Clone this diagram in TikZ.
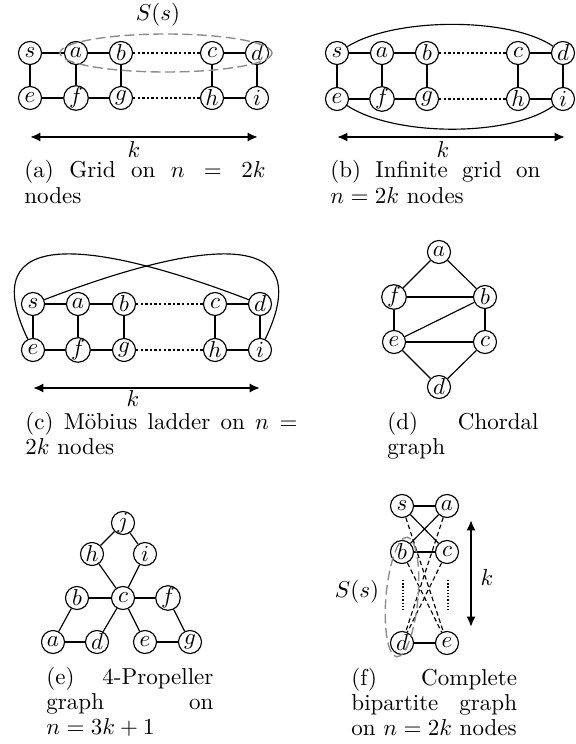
\documentclass[tikz,border=0pt]{standalone}
\usetikzlibrary{arrows.meta}
\begin{document}
\begin{tikzpicture}[x=0.4348pt,y=-0.4348pt,
  vtx/.style={draw,circle,minimum size=10pt,inner sep=0pt,line width=0.5pt},
  edge/.style={line width=0.5pt},
  dotsline/.style={line width=1pt,dash pattern=on 1pt off 1pt},
  kline/.style={line width=1.2pt,arrows={Latex[length=4.5pt,width=4pt]-Latex[length=4.5pt,width=4pt]}},
  setline/.style={draw=black!45,line width=0.6pt,dash pattern=on 4.3pt off 2pt},
  dashedge/.style={line width=0.5pt,dash pattern=on 2pt off 1.3pt},
  dotvert/.style={line width=0.5pt,dash pattern=on 0.6pt off 0.8pt},
  capt/.style={anchor=base west,align=justify,inner sep=0pt,font=\fontsize{10pt}{11pt}\selectfont},
  lbl/.style={inner sep=0pt}
]
\useasboundingbox (0,0) rectangle (575,744);

% ---------- (a) Grid ----------
\foreach \n/\x in {s/30,a/76,b/121,c/212,d/257} \node[vtx] (A\n) at (\x,53) {$\n$};
\foreach \n/\x in {e/30,f/76,g/121,h/212,i/257} \node[vtx] (A\n) at (\x,98) {$\n$};
\foreach \u/\v in {s/a,a/b,c/d,e/f,f/g,h/i,s/e,a/f,b/g,c/h,d/i} \draw[edge] (A\u) -- (A\v);
\draw[dotsline] (Ab) -- (Ac);
\draw[dotsline] (Ag) -- (Ah);
\draw[setline] (166,53) ellipse (106 and 19);
\node[lbl] (ASs) at (158,15) {$S(s)$};
\coordinate (Ak1) at (30,137);
\coordinate (Ak2) at (258,137);
\draw[kline] (Ak1) -- (Ak2);
\node[lbl] (Ak) at (134,150) {$k$};
\node[capt,text width=104.8pt] (Acap) at (24,178) {(a) Grid on $n=2k$\linebreak nodes};

% ---------- (b) Infinite grid ----------
\foreach \n/\x in {s/337,a/382,b/427,c/518,d/563} \node[vtx] (B\n) at (\x,53) {$\n$};
\foreach \n/\x in {e/337,f/382,g/427,h/518,i/563} \node[vtx] (B\n) at (\x,99) {$\n$};
\foreach \u/\v in {s/a,a/b,c/d,e/f,f/g,h/i,s/e,a/f,b/g,c/h,d/i} \draw[edge] (B\u) -- (B\v);
\draw[dotsline] (Bb) -- (Bc);
\draw[dotsline] (Bg) -- (Bh);
\draw[edge] (Bs) .. controls (395,17) and (510,17) .. (Bd);
\draw[edge] (Be) .. controls (395,137) and (510,137) .. (Bi);
\coordinate (Bk1) at (337,137);
\coordinate (Bk2) at (565,137);
\draw[kline] (Bk1) -- (Bk2);
\node[lbl] (Bk) at (443,150) {$k$};
\node[capt,text width=91.3pt] (Bcap) at (330,178) {(b) Infinite grid on\linebreak $n=2k$ nodes};

% ---------- (c) Moebius ladder ----------
\foreach \n/\x in {s/33,a/78,b/124,c/215,d/260} \node[vtx] (C\n) at (\x,304) {$\n$};
\foreach \n/\x in {e/33,f/78,g/124,h/215,i/260} \node[vtx] (C\n) at (\x,350) {$\n$};
\foreach \u/\v in {s/a,a/b,c/d,e/f,f/g,h/i,s/e,a/f,b/g,c/h,d/i} \draw[edge] (C\u) -- (C\v);
\draw[dotsline] (Cb) -- (Cc);
\draw[dotsline] (Cg) -- (Ch);
\draw[edge] (Cs) .. controls (200,240) and (320,225) .. (Ci);
\draw[edge] (Cd) .. controls (93,240) and (-27,225) .. (Ce);
\coordinate (Ck1) at (33,388);
\coordinate (Ck2) at (260,388);
\draw[kline] (Ck1) -- (Ck2);
\node[lbl] (Ck) at (133,399) {$k$};
\node[capt,text width=118.3pt] (Ccap) at (25,429) {(c) Möbius ladder on $n=$\linebreak $2k$ nodes};

% ---------- (d) Chordal graph ----------
\node[vtx] (Da) at (439,252) {$a$};
\node[vtx] (Df) at (394,297) {$f$};
\node[vtx] (Db) at (485,297) {$b$};
\node[vtx] (De) at (394,342) {$e$};
\node[vtx] (Dc) at (485,342) {$c$};
\node[vtx] (Dd) at (439,387) {$d$};
\foreach \u/\v in {a/f,a/b,f/b,f/e,e/b,b/c,e/c,e/d,c/d} \draw[edge] (D\u) -- (D\v);
\node[capt,text width=65.7pt] (Dcap) at (387,429) {(d) Chordal\linebreak graph};

% ---------- (e) 4-Propeller ----------
\node[vtx] (Ej) at (123,523) {$j$};
\node[vtx] (Eh) at (92,554) {$h$};
\node[vtx] (Ei) at (145,554) {$i$};
\node[vtx] (Eb) at (77,598) {$b$};
\node[vtx] (Ec) at (123,598) {$c$};
\node[vtx] (Ef) at (168,598) {$f$};
\node[vtx] (Ea) at (53,642) {$a$};
\node[vtx] (Ed) at (97,642) {$d$};
\node[vtx] (Ee) at (145,642) {$e$};
\node[vtx] (Eg) at (190,642) {$g$};
\foreach \u/\v in {j/h,j/i,h/c,i/c,b/c,c/f,b/a,a/d,d/c,c/e,e/g,f/g} \draw[edge] (E\u) -- (E\v);
\node[capt,text width=72.6pt] (Ecap) at (46,684) {(e) 4-Propeller\linebreak graph on\linebreak $n=3k+1$};

% ---------- (f) Complete bipartite ----------
\node[vtx] (Fs) at (402,506) {$s$};
\node[vtx] (Fa) at (447,506) {$a$};
\node[vtx] (Fb) at (402,552) {$b$};
\node[vtx] (Fc) at (447,552) {$c$};
\node[vtx] (Fd) at (402,643) {$d$};
\node[vtx] (Fe) at (447,643) {$e$};
\foreach \u/\v in {s/a,b/c,d/e,s/c,a/b} \draw[edge] (F\u) -- (F\v);
\foreach \u/\v in {s/e,b/e,a/d,c/d} \draw[dashedge] (F\u) -- (F\v);
\coordinate (Fv1) at (403,580);
\coordinate (Fv2) at (403,610);
\coordinate (Fv3) at (448,580);
\coordinate (Fv4) at (448,610);
\draw[dotvert] (Fv1) -- (Fv2);
\draw[dotvert] (Fv3) -- (Fv4);
\draw[setline,rotate around={-5:(402,597)}] (402,597) ellipse (16 and 60);
\node[lbl] (FSs) at (357,592) {$S(s)$};
\coordinate (Fk1) at (471,520);
\coordinate (Fk2) at (471,627);
\draw[kline] (Fk1) -- (Fk2);
\node[lbl] (Fk) at (487,578) {$k$};
\node[capt,text width=72pt] (Fcap) at (351,685) {(f) Complete\linebreak bipartite graph\linebreak on $n=2k$ nodes};
\end{tikzpicture}
\end{document}
